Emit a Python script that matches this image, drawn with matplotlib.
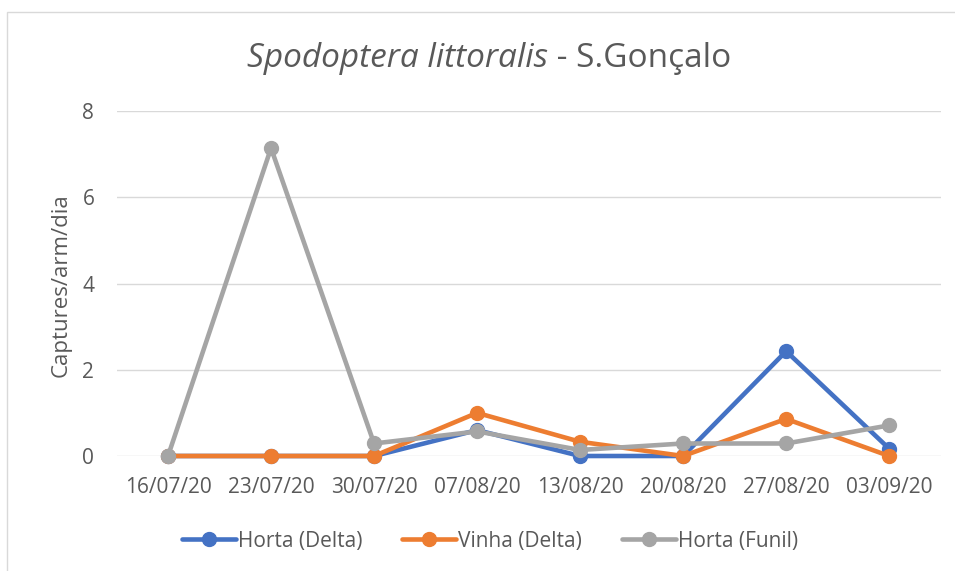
import matplotlib.pyplot as plt
from matplotlib.patches import Rectangle

plt.rcParams['font.family'] = ['Open Sans', 'DejaVu Sans']

dates = ['16/07/20', '23/07/20', '30/07/20', '07/08/20', '13/08/20', '20/08/20', '27/08/20', '03/09/20']
horta_delta = [0, 0, 0, 0.6, 0, 0, 2.43, 0.17]
vinha_delta = [0, 0, 0, 1.0, 0.33, 0, 0.86, 0]
horta_funil = [0, 7.14, 0.29, 0.57, 0.14, 0.29, 0.29, 0.71]

series = [
    ('Horta (Delta)', horta_delta, '#4472C4'),
    ('Vinha (Delta)', vinha_delta, '#ED7D31'),
    ('Horta (Funil)', horta_funil, '#A5A5A5'),
]
text_color = '#595959'
grid_color = '#D9D9D9'

fig = plt.figure(figsize=(9.55, 5.71), dpi=100)
ax = fig.add_axes([0.122, 0.2014, 0.863, 0.6042])

# outer chart border
fig.patches.append(Rectangle((7 / 955, -0.01), 1.0, 1 - 12 / 571 + 0.01,
                             transform=fig.transFigure, fill=False,
                             edgecolor=grid_color, linewidth=1))

x = range(len(dates))
for name, vals, col in series:
    ax.plot(x, vals, color=col, linewidth=3.3, marker='o', markersize=10,
            label=name, clip_on=False, solid_capstyle='round', zorder=3)

ax.set_xlim(-0.5, len(dates) - 0.5)
ax.set_ylim(0, 8)
ax.set_yticks([0, 2, 4, 6, 8])
ax.set_xticks(list(x))
ax.set_xticklabels(dates)
ax.yaxis.grid(True, color=grid_color, linewidth=1)
ax.set_axisbelow(True)
for s in ax.spines.values():
    s.set_visible(False)
ax.tick_params(length=0, labelsize=15, labelcolor=text_color)
ax.tick_params(axis='y', pad=16)
ax.tick_params(axis='x', pad=15)
ax.set_ylabel('Captures/arm/dia', fontsize=16, color=text_color)
ax.yaxis.set_label_coords(72 / 955, 1 - 285 / 571, transform=fig.transFigure)

# title: italic species name + plain place name, centred as a whole
title_y = 0.898
t1 = fig.text(0, title_y, 'Spodoptera littoralis', ha='left', va='center',
              fontsize=24, style='italic', color=text_color)
t2 = fig.text(0, title_y, ' - S.Gonçalo', ha='left', va='center',
              fontsize=24, color=text_color)
r = fig.canvas.get_renderer()
w1 = t1.get_window_extent(r).width / fig.bbox.width
w2 = t2.get_window_extent(r).width / fig.bbox.width
x0 = 489 / 955 - (w1 + w2) / 2
t1.set_x(x0)
t2.set_x(x0 + w1)

leg = ax.legend(loc='center', ncol=3, frameon=False, fontsize=15,
                handlelength=2.6, handletextpad=0.1, columnspacing=1.9,
                labelcolor=text_color)
leg.set_bbox_to_anchor((0.513, 1 - 541 / 571), transform=fig.transFigure)

fig.savefig('out.png', dpi=100)
